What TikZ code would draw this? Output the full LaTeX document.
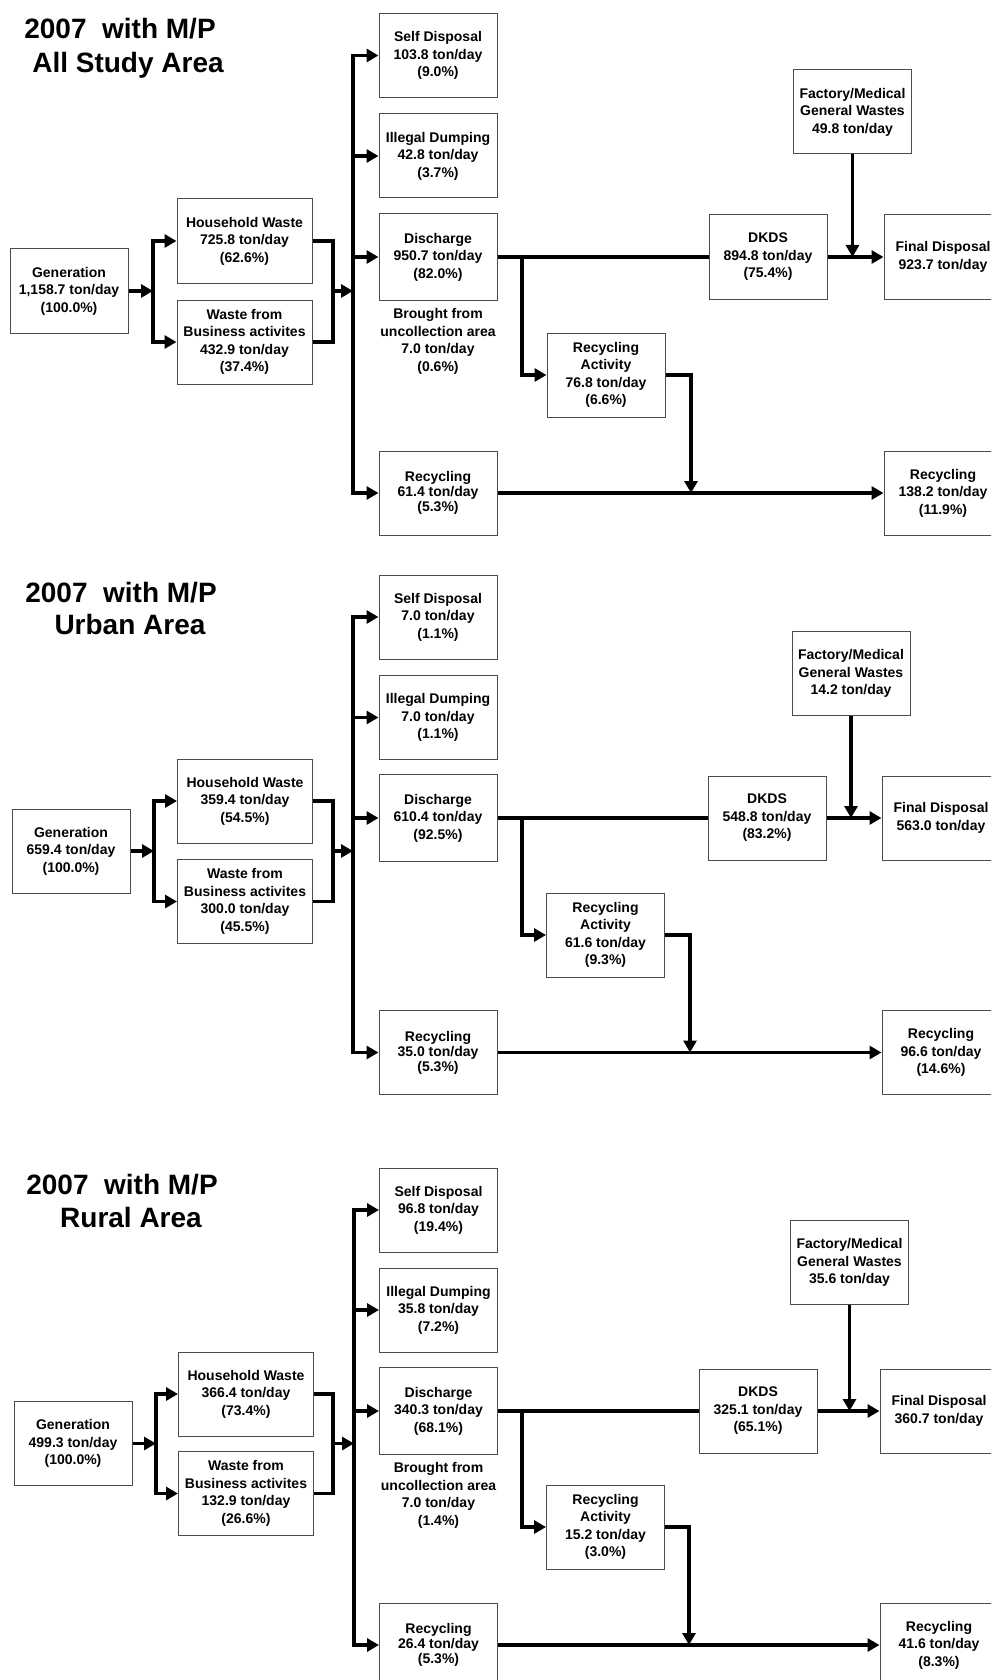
\documentclass[tikz,border=0pt]{standalone}
\usepackage{fontspec}
\setmainfont{Liberation Sans}
\usetikzlibrary{arrows.meta, positioning}

\newcommand\boxfont{\fontsize{7}{8.75}\selectfont\bfseries}
\newcommand\tightfont{\fontsize{7}{7.5}\selectfont\bfseries}
\newcommand\headfont{\fontsize{14}{16}\selectfont\bfseries}

\begin{document}
\begin{tikzpicture}[
        x=0.5pt, y=-0.5pt,
        node distance=3.5pt,
        box/.style={draw=black!70, line width=0.5pt, minimum width=59pt, minimum height=42pt, inner sep=0pt, align=center, font=\boxfont},
        wbox/.style={box, minimum width=67.5pt},
        dbox/.style={box, minimum height=43.5pt},
        tbox/.style={box, font=\tightfont},
        note/.style={inner sep=0pt, align=center, font=\boxfont},
        heading/.style={anchor=base, inner sep=0pt, font=\headfont},
        pipe/.style={line width=1.8pt},
        flow/.style={pipe, -{Triangle[length=6pt, width=6.5pt]}}
    ]
    \useasboundingbox (0,0) rectangle (991,1680);
    \clip (0,0) rectangle (991,1680);

    % All study area
    \node[heading] (a-t1) at (120,39) {2007\ \ with M/P};
    \node[heading] (a-t2) at (128,73) {All Study Area};
    \node[box] (a-gen) at (69,291) {Generation\\1,158.7 ton/day\\(100.0\%)};
    \node[wbox] (a-hh) at (244.5,241) {Household Waste\\725.8 ton/day\\(62.6\%)};
    \node[wbox] (a-bus) at (244.5,342) {Waste from\\Business activites\\432.9 ton/day\\(37.4\%)};
    \node[box] (a-self) at (438,55.5) {Self Disposal\\103.8 ton/day\\(9.0\%)};
    \node[box] (a-ill) at (438,156) {Illegal Dumping\\42.8 ton/day\\(3.7\%)};
    \node[dbox] (a-dis) at (438,257) {Discharge\\950.7 ton/day\\(82.0\%)};
    \node[note, below=of a-dis] (a-from) {Brought from\\uncollection area\\7.0 ton/day\\(0.6\%)};
    \node[tbox] (a-rec) at (438,493) {Recycling\\61.4 ton/day\\(5.3\%)};
    \node[box] (a-dkds) at (768,257) {DKDS\\894.8 ton/day\\(75.4\%)};
    \node[box] (a-fin) at (943,257) {Final Disposal\\923.7 ton/day};
    \node[box] (a-fac) at (852.5,112) {Factory/Medical\\General Wastes\\49.8 ton/day};
    \node[box] (a-act) at (606,375) {Recycling\\Activity\\76.8 ton/day\\(6.6\%)};
    \node[box] (a-recf) at (943,493) {Recycling\\138.2 ton/day\\(11.9\%)};
    \coordinate (a-j1) at (153,291);
    \coordinate (a-j2) at (333,291);
    \coordinate (a-j3) at (353,291);
    \coordinate (a-j4) at (522,257);
    \coordinate (a-j5) at (691,493);
    \draw[flow] (a-gen) -- (a-j1);
    \draw[flow] (a-j1) |- (a-hh);
    \draw[flow] (a-j1) |- (a-bus);
    \draw[pipe] (a-hh) -| (a-j2);
    \draw[pipe] (a-bus) -| (a-j2);
    \draw[flow] (a-j2) -- (a-j3);
    \draw[flow] (a-j3) |- (a-self);
    \draw[flow] (a-j3) |- (a-ill);
    \draw[flow] (a-j3) |- (a-dis);
    \draw[flow] (a-j3) |- (a-rec);
    \draw[pipe] (a-dis) -- (a-dkds);
    \draw[flow] (a-j4) |- (a-act);
    \draw[flow] (a-dkds) -- (a-fin);
    \draw[flow] (a-fac) -- (a-fac |- a-fin);
    \draw[flow] (a-act) -| (a-j5);
    \draw[flow] (a-rec) -- (a-recf);

    % Urban area
    \node[heading] (b-t1) at (121,602) {2007\ \ with M/P};
    \node[heading] (b-t2) at (130,634) {Urban Area};
    \node[box] (b-gen) at (71,851) {Generation\\659.4 ton/day\\(100.0\%)};
    \node[wbox] (b-hh) at (245,801) {Household Waste\\359.4 ton/day\\(54.5\%)};
    \node[wbox] (b-bus) at (245,901.5) {Waste from\\Business activites\\300.0 ton/day\\(45.5\%)};
    \node[box] (b-self) at (438,617) {Self Disposal\\7.0 ton/day\\(1.1\%)};
    \node[box] (b-ill) at (438,717.5) {Illegal Dumping\\7.0 ton/day\\(1.1\%)};
    \node[dbox] (b-dis) at (438,818) {Discharge\\610.4 ton/day\\(92.5\%)};
    \node[tbox] (b-rec) at (438,1052.5) {Recycling\\35.0 ton/day\\(5.3\%)};
    \node[box] (b-dkds) at (767,818) {DKDS\\548.8 ton/day\\(83.2\%)};
    \node[box] (b-fin) at (941,818) {Final Disposal\\563.0 ton/day};
    \node[box] (b-fac) at (851,673.5) {Factory/Medical\\General Wastes\\14.2 ton/day};
    \node[box] (b-act) at (605.5,935) {Recycling\\Activity\\61.6 ton/day\\(9.3\%)};
    \node[box] (b-recf) at (941,1052.5) {Recycling\\96.6 ton/day\\(14.6\%)};
    \coordinate (b-j1) at (154,851);
    \coordinate (b-j2) at (333,851);
    \coordinate (b-j3) at (353,851);
    \coordinate (b-j4) at (522,818);
    \coordinate (b-j5) at (690,1052.5);
    \draw[flow] (b-gen) -- (b-j1);
    \draw[flow] (b-j1) |- (b-hh);
    \draw[flow] (b-j1) |- (b-bus);
    \draw[pipe] (b-hh) -| (b-j2);
    \draw[pipe] (b-bus) -| (b-j2);
    \draw[flow] (b-j2) -- (b-j3);
    \draw[flow] (b-j3) |- (b-self);
    \draw[flow] (b-j3) |- (b-ill);
    \draw[flow] (b-j3) |- (b-dis);
    \draw[flow] (b-j3) |- (b-rec);
    \draw[pipe] (b-dis) -- (b-dkds);
    \draw[flow] (b-j4) |- (b-act);
    \draw[flow] (b-dkds) -- (b-fin);
    \draw[flow] (b-fac) -- (b-fac |- b-fin);
    \draw[flow] (b-act) -| (b-j5);
    \draw[flow] (b-rec) -- (b-recf);

    % Rural area
    \node[heading] (c-t1) at (122,1194) {2007\ \ with M/P};
    \node[heading] (c-t2) at (131,1227) {Rural Area};
    \node[box] (c-gen) at (73,1443.5) {Generation\\499.3 ton/day\\(100.0\%)};
    \node[wbox] (c-hh) at (246,1394) {Household Waste\\366.4 ton/day\\(73.4\%)};
    \node[wbox] (c-bus) at (246,1493.5) {Waste from\\Business activites\\132.9 ton/day\\(26.6\%)};
    \node[box] (c-self) at (438.5,1210) {Self Disposal\\96.8 ton/day\\(19.4\%)};
    \node[box] (c-ill) at (438.5,1310) {Illegal Dumping\\35.8 ton/day\\(7.2\%)};
    \node[dbox] (c-dis) at (438.5,1411) {Discharge\\340.3 ton/day\\(68.1\%)};
    \node[note, below=of c-dis] (c-from) {Brought from\\uncollection area\\7.0 ton/day\\(1.4\%)};
    \node[tbox] (c-rec) at (438.5,1645) {Recycling\\26.4 ton/day\\(5.3\%)};
    \node[box] (c-dkds) at (758,1411) {DKDS\\325.1 ton/day\\(65.1\%)};
    \node[box] (c-fin) at (939,1411) {Final Disposal\\360.7 ton/day};
    \node[box] (c-fac) at (849.5,1262.5) {Factory/Medical\\General Wastes\\35.6 ton/day};
    \node[box] (c-act) at (605.5,1527) {Recycling\\Activity\\15.2 ton/day\\(3.0\%)};
    \node[box] (c-recf) at (939,1645) {Recycling\\41.6 ton/day\\(8.3\%)};
    \coordinate (c-j1) at (156,1443.5);
    \coordinate (c-j2) at (333,1443.5);
    \coordinate (c-j3) at (354,1443.5);
    \coordinate (c-j4) at (522,1411);
    \coordinate (c-j5) at (689,1645);
    \draw[flow] (c-gen) -- (c-j1);
    \draw[flow] (c-j1) |- (c-hh);
    \draw[flow] (c-j1) |- (c-bus);
    \draw[pipe] (c-hh) -| (c-j2);
    \draw[pipe] (c-bus) -| (c-j2);
    \draw[flow] (c-j2) -- (c-j3);
    \draw[flow] (c-j3) |- (c-self);
    \draw[flow] (c-j3) |- (c-ill);
    \draw[flow] (c-j3) |- (c-dis);
    \draw[flow] (c-j3) |- (c-rec);
    \draw[pipe] (c-dis) -- (c-dkds);
    \draw[flow] (c-j4) |- (c-act);
    \draw[flow] (c-dkds) -- (c-fin);
    \draw[flow] (c-fac) -- (c-fac |- c-fin);
    \draw[flow] (c-act) -| (c-j5);
    \draw[flow] (c-rec) -- (c-recf);
\end{tikzpicture}
\end{document}
